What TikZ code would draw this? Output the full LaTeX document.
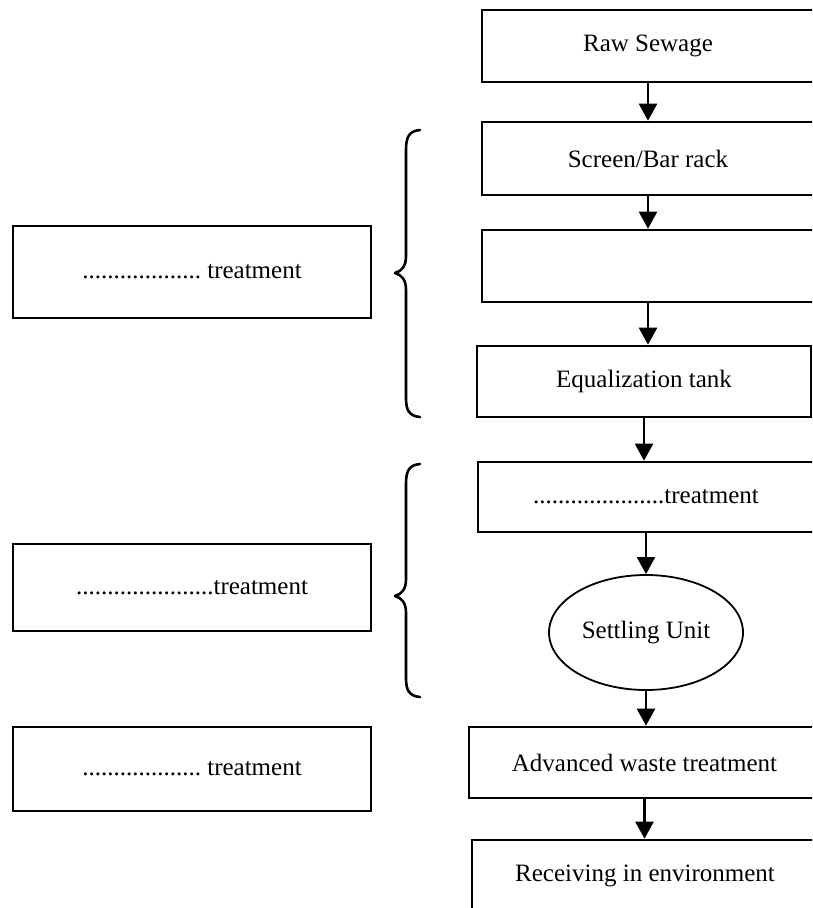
\documentclass[tikz,border=0pt]{standalone}
\usepackage{fontspec}
\setmainfont{Liberation Serif}
\usetikzlibrary{arrows.meta,shapes.geometric}
\begin{document}
\begin{tikzpicture}[x=1pt,y=-1pt,
  stage/.style={draw, line width=2.6pt, rectangle, inner sep=0pt, align=center,
    font=\fontsize{25}{28}\selectfont},
  tank/.style={draw, line width=1.8pt, ellipse, inner sep=0pt,
    font=\fontsize{25}{28}\selectfont},
  flow/.style={line width=2.4pt, -{Triangle[width=18pt,length=17pt]}},
  brace/.style={line width=2.6pt, line cap=round, line join=round}]
\useasboundingbox (0,0) rectangle (812,908);
\clip (0,0) rectangle (812,908);

% process chain
\node[stage, minimum width=332pt, minimum height=72pt] (raw) at (648,46) {Raw Sewage};
\node[stage, minimum width=332pt, minimum height=73pt] (screen) at (648,158.5) {Screen/Bar rack};
\node[stage, minimum width=332pt, minimum height=72pt] (blank) at (648,266) {};
\node[stage, minimum width=334pt, minimum height=71pt] (equal) at (644,381.5) {Equalization tank};
\node[stage, minimum width=336pt, minimum height=70pt] (treat) at (646,497) {.....................treatment};
\node[tank, minimum width=194pt, minimum height=115pt] (settle) at (646,632.5) {Settling Unit};
\node[stage, minimum width=351pt, minimum height=71pt] (adv) at (644.5,762.5) {Advanced waste treatment};
\node[stage, minimum width=346pt, minimum height=72pt] (recv) at (645,876) {Receiving in environment};

% stage labels
\node[stage, minimum width=358pt, minimum height=92pt] (lab1) at (192,272) {...................\ treatment};
\node[stage, minimum width=358pt, minimum height=87pt] (lab2) at (192,587.5) {......................treatment};
\node[stage, minimum width=358pt, minimum height=84pt] (lab3) at (192,769) {...................\ treatment};

% flow arrows
\draw[flow] (raw.south) -- (raw.south |- screen.north);
\draw[flow] (screen.south) -- (screen.south |- blank.north);
\draw[flow] (blank.south) -- (blank.south |- equal.north);
\draw[flow] (equal.south) -- (equal.south |- treat.north);
\draw[flow] (treat.south) -- (treat.south |- settle.north);
\draw[flow] (settle.south) -- (settle.south |- adv.north);
\draw[flow] (adv.south) -- (adv.south |- recv.north);

% braces grouping the stages
\draw[brace] (420,130) .. controls (409,131) and (406,137) .. (406,150) -- (406,256)
  .. controls (406,266) and (402,271) .. (395,273)
  .. controls (402,275) and (406,280) .. (406,290) -- (406,398)
  .. controls (406,410) and (409,416) .. (420,417);
\draw[brace] (420,464) .. controls (409,465) and (406,471) .. (406,484) -- (406,579)
  .. controls (406,589) and (402,594) .. (395,596)
  .. controls (402,598) and (406,603) .. (406,613) -- (406,678)
  .. controls (406,690) and (409,696) .. (420,697);
\end{tikzpicture}
\end{document}
